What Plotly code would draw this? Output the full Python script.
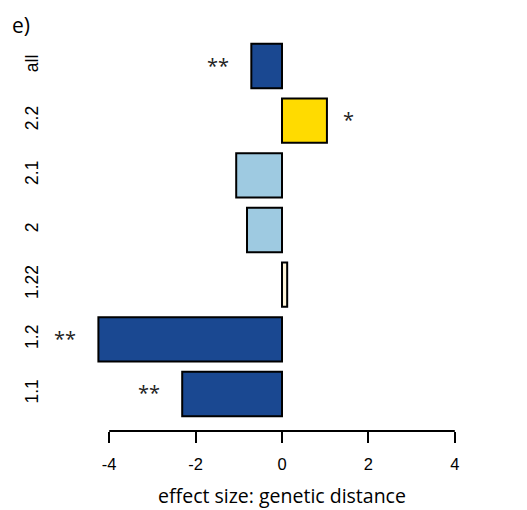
import plotly.graph_objects as go

categories = ["1.1", "1.2", "1.22", "2", "2.1", "2.2", "all"]
effect_size = [-2.31, -4.25, 0.12, -0.81, -1.06, 1.04, -0.71]
significance = ["**", "**", "", "", "", "*", "**"]
bar_colors = ["#1A4891", "#1A4891", "#FFF5D9", "#9ECAE1", "#9ECAE1", "#FFDB00", "#1A4891"]
x_ticks = [-4, -2, 0, 2, 4]
x_tick_labels = ["-4", "-2", "0", "2", "4"]

HUMAN = "Open Sans"
SANS = "Liberation Sans, Arial, sans-serif"

fig = go.Figure()
fig.add_trace(go.Bar(
    x=effect_size, y=categories, orientation="h",
    marker=dict(color=bar_colors, line=dict(color="black", width=2)),
    width=0.81, showlegend=False, hoverinfo="skip",
))

for i, (val, sig) in enumerate(zip(effect_size, significance)):
    if not sig:
        continue
    neg = val < 0
    fig.add_annotation(x=val, y=i, text=sig, showarrow=False,
                       xanchor="right" if neg else "left",
                       xshift=-20 if neg else 14, yshift=1,
                       font=dict(family=HUMAN, size=20, color="#222"))

# axis line spanning only the tick range (as in R's axis())
fig.add_shape(type="line", xref="x", yref="paper",
              x0=x_ticks[0], x1=x_ticks[-1], y0=0, y1=0,
              line=dict(color="black", width=2))

fig.add_annotation(text="e)", xref="paper", yref="paper", x=-0.13, y=1.01,
                   showarrow=False, xanchor="left", yanchor="middle",
                   font=dict(family=HUMAN, size=21, color="black"))

fig.update_layout(
    width=527, height=510,
    margin=dict(l=58, r=37, t=21, b=87),
    paper_bgcolor="white", plot_bgcolor="white",
    font=dict(family=HUMAN, size=15, color="black"),
    xaxis=dict(range=[-5, 5], tickvals=x_ticks, ticktext=x_tick_labels,
               ticks="outside", ticklen=11,
               tickwidth=2, tickcolor="black", showline=False, showgrid=False,
               zeroline=False, tickfont=dict(family=SANS, size=16.5),
               ticklabelstandoff=7,
               title=dict(text="effect size: genetic distance",
                          font=dict(family=HUMAN, size=19.5), standoff=17)),
    yaxis=dict(range=[-0.677, 6.677], showgrid=False, zeroline=False,
               showline=False, ticks="outside", ticklen=20,
               tickcolor="rgba(0,0,0,0)", tickangle=-90,
               tickfont=dict(family=SANS, size=17.5)),
)

fig.write_html("out.html")
